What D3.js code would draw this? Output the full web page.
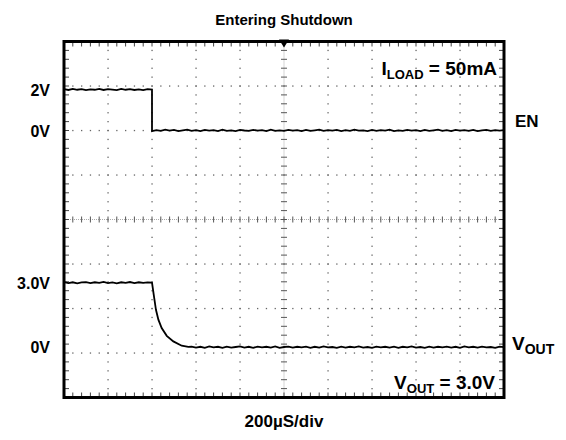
<!DOCTYPE html>
<html><head><meta charset="utf-8">
<script src="https://cdn.jsdelivr.net/npm/d3@7"></script>
<style>
body{margin:0;background:#fff}
text{font-family:"Liberation Sans",Arial,Helvetica,sans-serif;font-weight:bold;fill:#000}
</style></head>
<body><svg id="c" width="566" height="440"></svg>
<script>
// ---------- data ----------
const chartTitle = "Entering Shutdown";
const timebaseLabel = "200µS/div";
const timeDomainUs = [0, 2000];           // 10 divisions x 200 µs
const sampleStepUs = 20;

const enLevels = [2, 0];
const enLevelLabels = ["2V", "0V"];
const voutLevels = [3, 0];
const voutLevelLabels = ["3.0V", "0V"];

const enDropTimeUs = 400;
// EN high, sampled from 0 µs to 400 µs
const enHigh = [2.02,1.98,2.03,1.99,2.02,1.97,2.01,1.99,2.03,1.98,2.02,2.00,1.97,2.03,1.99,2.02,1.98,2.01,1.97,2.02,2.00];
// EN low, sampled from 400 µs to 2000 µs
const enLow = [-0.03,0.02,-0.02,0.04,-0.01,0.03,-0.03,0.01,0.04,-0.02,0.02,-0.03,0.03,-0.01,0.02,-0.03,
  0.04,-0.02,0.01,-0.03,0.03,0.00,-0.02,0.03,-0.01,0.02,-0.03,0.04,-0.02,0.01,-0.02,0.03,
  -0.01,0.02,-0.03,0.03,-0.02,0.01,0.04,-0.02,0.02,-0.01,0.03,-0.03,0.02,-0.02,0.04,-0.01,
  0.01,-0.03,0.03,-0.02,0.02,-0.01,0.04,-0.03,0.01,-0.02,0.03,-0.01,0.02,-0.03,0.03,-0.02,
  0.01,0.04,-0.02,0.02,-0.03,0.03,-0.01,0.02,-0.02,0.03,-0.03,0.01,0.03,-0.02,0.02,-0.01,0.02];

// VOUT high, sampled from 0 µs to 400 µs
const voutHigh = [3.03,2.98,3.02,2.97,3.01,3.03,2.98,3.02,2.99,3.04,2.98,3.01,2.97,3.02,2.99,3.03,2.98,3.02,2.99,3.01,3.00];
// VOUT discharge [µs, V]
const voutDecay = [[409,2.36],[418,1.74],[429,1.28],[444,0.89],[467,0.53],[497,0.27],[535,0.07],[565,0.02]];
// VOUT low, sampled from 580 µs to 2000 µs
const voutLow = [0.03,-0.02,0.02,-0.03,0.04,-0.01,0.02,-0.03,0.03,-0.02,0.01,0.04,-0.02,0.02,-0.03,0.03,
  -0.01,0.02,-0.02,0.04,-0.03,0.01,0.03,-0.02,0.02,-0.01,0.03,-0.03,0.02,-0.02,0.04,-0.01,
  0.01,-0.03,0.03,-0.02,0.02,-0.01,0.04,-0.02,0.01,-0.03,0.03,-0.01,0.02,-0.02,0.03,-0.03,
  0.02,-0.01,0.04,-0.02,0.01,-0.03,0.03,-0.02,0.02,-0.01,0.03,-0.02,0.02,-0.03,0.04,-0.01,
  0.02,-0.02,0.03,-0.01,0.01,-0.03,0.03,0.00];

// ---------- layout ----------
const svg = d3.select("#c");
const L = 64, R = 504, T = 41.5, B = 397.5;
const xDiv = d3.scaleLinear().domain([-5, 5]).range([L, R]);
const yDiv = d3.scaleLinear().domain([-4, 4]).range([B, T]);
const x = d3.scaleLinear().domain(timeDomainUs).range([L, R]);
// channel scales (volts -> screen), each channel has its own offset / gain
const yEN = d3.scaleLinear().domain([0, 2]).range([yDiv(2), yDiv(2.92)]);
const yVOUT = d3.scaleLinear().domain([0, 3]).range([yDiv(-2.87), yDiv(-1.42)]);

// ---------- graticule ----------
const g = svg.append("g");
const sub = d3.range(-25, 26).map(k => k / 5);   // fifths of a division (x)
const subY = d3.range(-20, 21).map(k => k / 5);  // fifths of a division (y)

[-4,-3,-2,-1,1,2,3,4].forEach(d => {
  g.selectAll(null).data(subY.filter(v => v > -4 && v < 4)).enter().append("rect")
    .attr("x", xDiv(d) - 0.6).attr("y", v => yDiv(v) - 0.6).attr("width", 1.3).attr("height", 1.3)
    .attr("fill", "#666");
});
[-3,-2,-1,1,2,3].forEach(d => {
  g.selectAll(null).data(sub.filter(v => v > -5 && v < 5)).enter().append("rect")
    .attr("x", v => xDiv(v) - 0.6).attr("y", yDiv(d) - 0.6).attr("width", 1.3).attr("height", 1.3)
    .attr("fill", "#666");
});
g.append("line").attr("x1", xDiv(0)).attr("x2", xDiv(0)).attr("y1", T).attr("y2", B)
  .attr("stroke", "#aaa").attr("stroke-width", 1).attr("stroke-dasharray", "1,1");
g.append("line").attr("x1", L).attr("x2", R).attr("y1", yDiv(0)).attr("y2", yDiv(0))
  .attr("stroke", "#aaa").attr("stroke-width", 1).attr("stroke-dasharray", "1,1");
g.selectAll(null).data(subY.filter(v => v > -4 && v < 4)).enter().append("line")
  .attr("x1", xDiv(0) - 3).attr("x2", xDiv(0) + 3).attr("y1", v => yDiv(v)).attr("y2", v => yDiv(v))
  .attr("stroke", "#555").attr("stroke-width", 1);
g.selectAll(null).data(sub.filter(v => v > -5 && v < 5)).enter().append("line")
  .attr("y1", yDiv(0) - 3).attr("y2", yDiv(0) + 3).attr("x1", v => xDiv(v)).attr("x2", v => xDiv(v))
  .attr("stroke", "#555").attr("stroke-width", 1);
const fx = sub.filter(v => v > -5 && v < 5), fy = subY.filter(v => v > -4 && v < 4);
g.selectAll(null).data(fx).enter().append("line")
  .attr("x1", v => xDiv(v)).attr("x2", v => xDiv(v)).attr("y1", T).attr("y2", T + 5)
  .attr("stroke", "#444").attr("stroke-width", 1);
g.selectAll(null).data(fx).enter().append("line")
  .attr("x1", v => xDiv(v)).attr("x2", v => xDiv(v)).attr("y1", B).attr("y2", B - 5)
  .attr("stroke", "#444").attr("stroke-width", 1);
g.selectAll(null).data(fy).enter().append("line")
  .attr("y1", v => yDiv(v)).attr("y2", v => yDiv(v)).attr("x1", L).attr("x2", L + 5)
  .attr("stroke", "#444").attr("stroke-width", 1);
g.selectAll(null).data(fy).enter().append("line")
  .attr("y1", v => yDiv(v)).attr("y2", v => yDiv(v)).attr("x1", R).attr("x2", R - 5)
  .attr("stroke", "#444").attr("stroke-width", 1);

// ---------- traces ----------
const enPts = enHigh.map((v, i) => [i * sampleStepUs, v])
  .concat(enLow.map((v, i) => [enDropTimeUs + i * sampleStepUs, v]))
  .filter(p => p[0] <= timeDomainUs[1]);
const voutPts = voutHigh.map((v, i) => [i * sampleStepUs, v])
  .concat(voutDecay)
  .concat(voutLow.map((v, i) => [580 + i * sampleStepUs, v]))
  .filter(p => p[0] <= timeDomainUs[1]);

svg.append("path").datum(enPts)
  .attr("d", d3.line().x(d => x(d[0])).y(d => yEN(d[1])))
  .attr("fill", "none").attr("stroke", "#000").attr("stroke-width", 1.8);
svg.append("path").datum(voutPts)
  .attr("d", d3.line().x(d => x(d[0])).y(d => yVOUT(d[1])))
  .attr("fill", "none").attr("stroke", "#000").attr("stroke-width", 1.8);

// ---------- frame & trigger marker ----------
svg.append("rect").attr("x", L).attr("y", T).attr("width", R - L).attr("height", B - T)
  .attr("fill", "none").attr("stroke", "#000").attr("stroke-width", 3);
const cx = xDiv(0);
svg.append("path").attr("d", `M${cx - 5},${T - 2}L${cx + 5},${T - 2}L${cx},${T + 6}Z`).attr("fill", "#000");

// ---------- text ----------
svg.append("text").attr("x", cx).attr("y", 25).attr("text-anchor", "middle")
  .style("font-size", "15px").text(chartTitle);
svg.append("text").attr("x", cx).attr("y", 427).attr("text-anchor", "middle")
  .style("font-size", "17px").text(timebaseLabel);

svg.selectAll(null).data(enLevels).enter().append("text")
  .attr("x", 50).attr("y", v => yEN(v) + 6).attr("text-anchor", "end")
  .style("font-size", "16px").text((v, i) => enLevelLabels[i]);
svg.selectAll(null).data(voutLevels).enter().append("text")
  .attr("x", 50).attr("y", v => yVOUT(v) + 6).attr("text-anchor", "end")
  .style("font-size", "16px").text((v, i) => voutLevelLabels[i]);

svg.append("text").attr("x", 515).attr("y", 127).style("font-size", "17px").text("EN");
const vo = svg.append("text").attr("x", 512).attr("y", 350).style("font-size", "19px");
vo.append("tspan").text("V");
vo.append("tspan").attr("dy", 4).style("font-size", "14px").text("OUT");

const il = svg.append("text").attr("x", 497).attr("y", 75).attr("text-anchor", "end").style("font-size", "19px");
il.append("tspan").text("I");
il.append("tspan").attr("dy", 4).style("font-size", "13px").text("LOAD");
il.append("tspan").attr("dy", -4).text(" = 50mA");

const vl = svg.append("text").attr("x", 495).attr("y", 389).attr("text-anchor", "end").style("font-size", "19px");
vl.append("tspan").text("V");
vl.append("tspan").attr("dy", 4).style("font-size", "13px").text("OUT");
vl.append("tspan").attr("dy", -4).text(" = 3.0V");
</script></body></html>
